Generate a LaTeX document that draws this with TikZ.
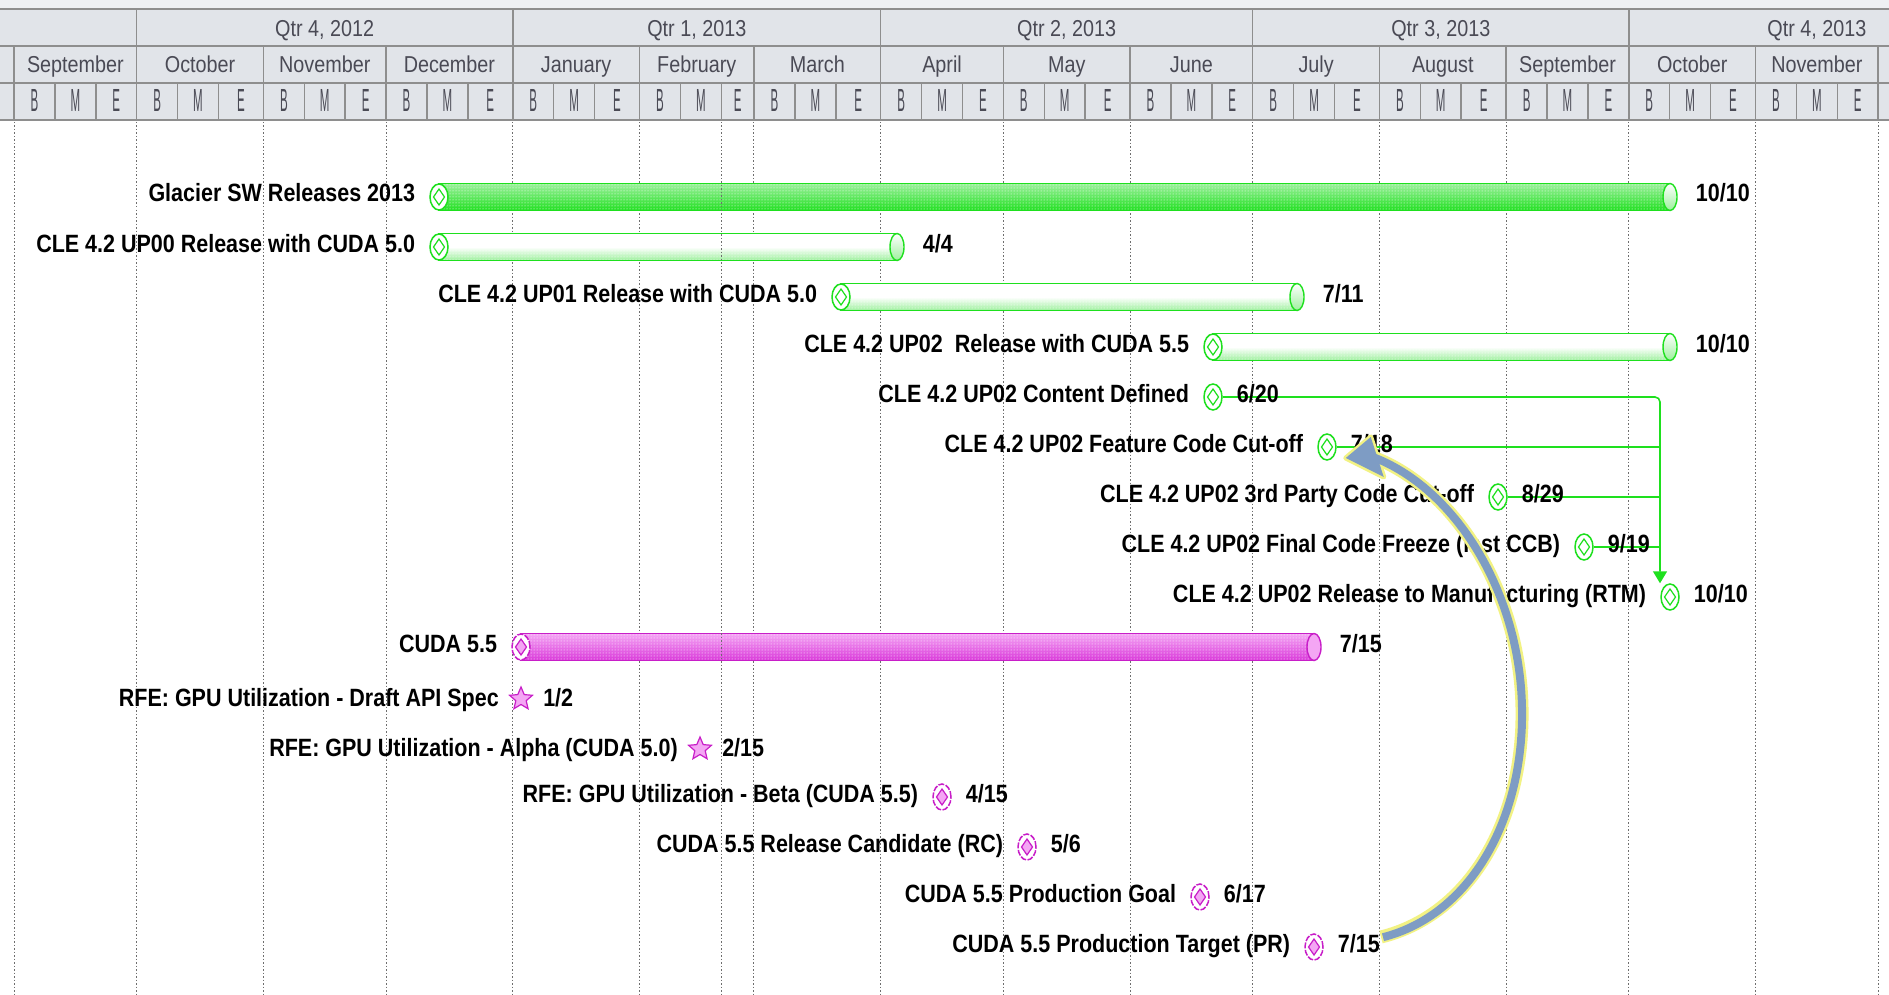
\documentclass[tikz,border=0pt]{standalone}
\usepackage{fontspec}
\setmainfont{Liberation Sans}[FakeStretch=0.86]
\newfontfamily\hdrfont{Liberation Sans}[FakeStretch=0.86]
\newfontfamily\bmefont{Liberation Sans}[FakeStretch=0.36]
\usetikzlibrary{shapes.geometric, arrows.meta, positioning, patterns}

\definecolor{hdrbg}{HTML}{E1E4E9}
\definecolor{hdrtop}{HTML}{EEF0F3}
\definecolor{hdrline}{HTML}{8E8E8E}
\definecolor{hdrtext}{HTML}{4A4A55}
\definecolor{gridgray}{HTML}{6E6E6E}
\definecolor{gline}{HTML}{1EE01E}
\definecolor{gfill}{HTML}{22E022}
\definecolor{gpale}{HTML}{9CF09C}
\definecolor{mline}{HTML}{C81EC8}
\definecolor{mfill}{HTML}{DA3ADA}
\definecolor{mpale}{HTML}{F4A6F4}
\definecolor{arrowfill}{HTML}{7E9CC4}
\definecolor{arrowrim}{HTML}{F2F283}

\begin{document}
\begin{tikzpicture}[
  x=1pt, y=-1pt,
  hdr/.style={font=\hdrfont\fontsize{23}{26}\selectfont, text=hdrtext, inner sep=0pt, anchor=base},
  bme/.style={font=\bmefont\fontsize{32}{34}\selectfont, text=hdrtext, inner sep=0pt, anchor=base},
  hline/.style={draw=hdrline, line width=1.5pt},
  gridline/.style={draw=gridgray, line width=1pt, dash pattern=on 1.5pt off 2pt},
  tlabel/.style={font=\fontsize{25}{30}\selectfont\bfseries, text=black, inner sep=0pt, anchor=base east},
  dlabel/.style={font=\fontsize{25}{30}\selectfont\bfseries, text=black, inner sep=0pt, anchor=base west},
  ms/.style 2 args={ellipse, draw=#1, line width=1.5pt, fill=white, minimum width=18pt, minimum height=26pt, inner sep=0pt,
    path picture={\draw[#1, solid, line width=1.2pt, fill=#2]
      ([yshift=8pt]path picture bounding box.center) -- ([xshift=5.5pt]path picture bounding box.center)
      -- ([yshift=-8pt]path picture bounding box.center) -- ([xshift=-5.5pt]path picture bounding box.center) -- cycle;}},
  gms/.style={ms={gline}{white}},
  mms/.style={ms={mline}{mpale}, dash pattern=on 6pt off 1.5pt},
  rfestar/.style={star, star points=5, star point ratio=2.2, draw=mline, line width=1.2pt, fill=mpale, minimum size=24pt, inner sep=0pt},
  gcap/.style={ellipse, draw=gline, line width=1.4pt, top color=white, bottom color=gpale, minimum width=14pt, minimum height=27pt, inner sep=0pt},
  mcap/.style={ellipse, draw=mline, line width=1.4pt, fill=mpale, minimum width=14pt, minimum height=27pt, inner sep=0pt},
  sumbar/.style={top color=gpale, bottom color=gfill, postaction={pattern=dots, pattern color=white}, postaction={draw=gline, line width=1.5pt}},
  taskbar/.style={top color=white, bottom color=gpale, middle color=white, postaction={pattern=dots, pattern color=white}, postaction={draw=gline, line width=1.5pt}},
  cudabar/.style={top color=mpale, bottom color=mfill, postaction={pattern=dots, pattern color=white}, postaction={draw=mline, line width=1.5pt}},
  dep/.style={draw=gline, line width=1.6pt}
]
\useasboundingbox (0,0) rectangle (1889,995);
\clip (0,0) rectangle (1889,995);
\fill[white] (0,0) rectangle (1889,995);

% Timescale header
\fill[hdrtop] (0,0) rectangle (1889,9);
\fill[hdrbg] (0,9) rectangle (1889,120);
\foreach \qa/\qc/\qn [count=\qi] in {136.7/324.7/{Qtr 4, 2012}, 512.8/696.8/{Qtr 1, 2013}, 880.7/1066.7/{Qtr 2, 2013}, 1252.7/1440.8/{Qtr 3, 2013}, 1628.8/1816.9/{Qtr 4, 2013}}{
  \draw[hline] (\qa,9) -- (\qa,46);
  \node[hdr] (qtr\qi) at (\qc,37) {\qn};
}
\foreach \md/\mn/\ml [count=\mi] in {-30/September/30, 0/October/31, 31/November/30, 61/December/31, 92/January/31, 123/February/28, 151/March/31, 182/April/30, 212/May/31, 243/June/30, 273/July/31, 304/August/31, 335/September/30, 365/October/31, 396/November/30}{
  \pgfmathsetmacro\xa{136.7+4.088*\md}
  \pgfmathsetmacro\xb{136.7+4.088*(\md+10)}
  \pgfmathsetmacro\xc{136.7+4.088*(\md+20)}
  \pgfmathsetmacro\xe{136.7+4.088*(\md+\ml)}
  \draw[hline] (\xa,46) -- (\xa,120);
  \draw[hline] (\xb,83) -- (\xb,120) (\xc,83) -- (\xc,120);
  \node[hdr] (mon\mi) at ({(\xa+\xe)/2},73) {\mn};
  \node[bme] (bB\mi) at ({(\xa+\xb)/2},112) {B};
  \node[bme] (bM\mi) at ({(\xb+\xc)/2},112) {M};
  \node[bme] (bE\mi) at ({(\xc+\xe)/2},112) {E};
  \draw[gridline] (\xa,122) -- (\xa,995);
}
% last month edge (December 2013)
\draw[hline] (1878.2,46) -- (1878.2,120);
\draw[gridline] (1878.2,122) -- (1878.2,995);
\draw[hdrline, line width=2.4pt] (0,9) -- (1889,9);
\draw[hline] (0,46) -- (1889,46) (0,83) -- (1889,83);
\draw[hdrline, line width=2.5pt] (0,120) -- (1889,120);

% Bars
\coordinate (glacierA) at (439,197);
\coordinate (glacierB) at (1670,197);
\path[sumbar] ([yshift=13.5pt]glacierA) rectangle ([yshift=-13.5pt]glacierB);
\coordinate (up00A) at (439,247);
\coordinate (up00B) at (897,247);
\path[taskbar] ([yshift=13.5pt]up00A) rectangle ([yshift=-13.5pt]up00B);
\coordinate (up01A) at (841,297);
\coordinate (up01B) at (1297,297);
\path[taskbar] ([yshift=13.5pt]up01A) rectangle ([yshift=-13.5pt]up01B);
\coordinate (up02A) at (1213,347);
\coordinate (up02B) at (1670,347);
\path[taskbar] ([yshift=13.5pt]up02A) rectangle ([yshift=-13.5pt]up02B);
\coordinate (cudaA) at (521,647);
\coordinate (cudaB) at (1314,647);
\path[cudabar] ([yshift=13.5pt]cudaA) rectangle ([yshift=-13.5pt]cudaB);

% Status date line
\draw[gridline] (721.3,122) -- (721.3,995);

% Bar ends and milestones
\node[gcap] (glacierE) at (glacierB) {};
\node[gms] (glacierS) at (glacierA) {};
\node[gcap] (up00E) at (up00B) {};
\node[gms] (up00S) at (up00A) {};
\node[gcap] (up01E) at (up01B) {};
\node[gms] (up01S) at (up01A) {};
\node[gcap] (up02E) at (up02B) {};
\node[gms] (up02S) at (up02A) {};
\node[gms] (content) at (1213,397) {};
\node[gms] (feature) at (1327,447) {};
\node[gms] (thirdparty) at (1498,497) {};
\node[gms] (freeze) at (1584,547) {};
\node[gms] (rtm) at (1670,597) {};
\node[mcap] (cudaE) at (cudaB) {};
\node[mms] (cudaS) at (cudaA) {};
\node[rfestar] (draft) at (521,699) {};
\node[rfestar] (alpha) at (700,749) {};
\node[mms] (beta) at (942,797) {};
\node[mms] (rc) at (1027,847) {};
\node[mms] (goal) at (1200,897) {};
\node[mms] (target) at (1314,947) {};

% Links into RTM
\coordinate (spine) at ([xshift=-10pt]rtm.north);
\draw[dep, rounded corners=5pt, -{Triangle[width=14pt, length=12pt]}] (content.east) -| (spine);
\draw[dep] (feature.east) -- (feature.east -| spine);
\draw[dep] (thirdparty.east) -- (thirdparty.east -| spine);
\draw[dep] (freeze.east) -- (freeze.east -| spine);

% Task names
\node[tlabel] (glacierL) at ([xshift=-14pt, yshift=-5pt]glacierS.west) {Glacier SW Releases 2013};
\node[tlabel] (up00L) at ([xshift=-14pt, yshift=-5pt]up00S.west) {CLE 4.2 UP00 Release with CUDA 5.0};
\node[tlabel] (up01L) at ([xshift=-14pt, yshift=-5pt]up01S.west) {CLE 4.2 UP01 Release with CUDA 5.0};
\node[tlabel] (up02L) at ([xshift=-14pt, yshift=-5pt]up02S.west) {CLE 4.2 UP02\ \ Release with CUDA 5.5};
\node[tlabel] (contentL) at ([xshift=-14pt, yshift=-5pt]content.west) {CLE 4.2 UP02 Content Defined};
\node[tlabel] (featureL) at ([xshift=-14pt, yshift=-5pt]feature.west) {CLE 4.2 UP02 Feature Code Cut-off};
\node[tlabel] (thirdpartyL) at ([xshift=-14pt, yshift=-5pt]thirdparty.west) {CLE 4.2 UP02 3rd Party Code Cut-off};
\node[tlabel] (freezeL) at ([xshift=-14pt, yshift=-5pt]freeze.west) {CLE 4.2 UP02 Final Code Freeze (last CCB)};
\node[tlabel] (rtmL) at ([xshift=-14pt, yshift=-5pt]rtm.west) {CLE 4.2 UP02 Release to Manufacturing (RTM)};
\node[tlabel] (cudaL) at ([xshift=-14pt, yshift=-5pt]cudaS.west) {CUDA 5.5};
\node[tlabel] (draftL) at ([xshift=-14pt, yshift=-7pt]draft.west) {RFE: GPU Utilization - Draft API Spec};
\node[tlabel] (alphaL) at ([xshift=-14pt, yshift=-7pt]alpha.west) {RFE: GPU Utilization - Alpha (CUDA 5.0)};
\node[tlabel] (betaL) at ([xshift=-14pt, yshift=-5pt]beta.west) {RFE: GPU Utilization - Beta (CUDA 5.5)};
\node[tlabel] (rcL) at ([xshift=-14pt, yshift=-5pt]rc.west) {CUDA 5.5 Release Candidate (RC)};
\node[tlabel] (goalL) at ([xshift=-14pt, yshift=-5pt]goal.west) {CUDA 5.5 Production Goal};
\node[tlabel] (targetL) at ([xshift=-14pt, yshift=-5pt]target.west) {CUDA 5.5 Production Target (PR)};

% Dates
\node[dlabel] (glacierD) at ([xshift=18pt, yshift=-5pt]glacierE.east) {10/10};
\node[dlabel] (up00D) at ([xshift=18pt, yshift=-5pt]up00E.east) {4/4};
\node[dlabel] (up01D) at ([xshift=18pt, yshift=-5pt]up01E.east) {7/11};
\node[dlabel] (up02D) at ([xshift=18pt, yshift=-5pt]up02E.east) {10/10};
\node[dlabel] (contentD) at ([xshift=14pt, yshift=-5pt]content.east) {6/20};
\node[dlabel] (featureD) at ([xshift=14pt, yshift=-5pt]feature.east) {7/18};
\node[dlabel] (thirdpartyD) at ([xshift=14pt, yshift=-5pt]thirdparty.east) {8/29};
\node[dlabel] (freezeD) at ([xshift=14pt, yshift=-5pt]freeze.east) {9/19};
\node[dlabel] (rtmD) at ([xshift=14pt, yshift=-5pt]rtm.east) {10/10};
\node[dlabel] (cudaD) at ([xshift=18pt, yshift=-5pt]cudaE.east) {7/15};
\node[dlabel] (draftD) at ([xshift=14pt, yshift=-7pt]draft.east) {1/2};
\node[dlabel] (alphaD) at ([xshift=14pt, yshift=-7pt]alpha.east) {2/15};
\node[dlabel] (betaD) at ([xshift=14pt, yshift=-5pt]beta.east) {4/15};
\node[dlabel] (rcD) at ([xshift=14pt, yshift=-5pt]rc.east) {5/6};
\node[dlabel] (goalD) at ([xshift=14pt, yshift=-5pt]goal.east) {6/17};
\node[dlabel] (targetD) at ([xshift=14pt, yshift=-5pt]target.east) {7/15};

% Curved call-out arrow, Production Target back to Feature Code Cut-off
\coordinate (arrTail) at ([xshift=3pt, yshift=6pt]targetD.east);
\coordinate (arrRim) at ([xshift=1pt, yshift=6.2pt]targetD.east);
\coordinate (arrTip) at ([xshift=9pt, yshift=-11pt]feature.east);
\coordinate (arrTop) at (1522,708);
\coordinate (arrEnd) at ([shift={(27,-1)}]arrTip);
\coordinate (arrWingA) at ([shift={(25,-21)}]arrTip);
\coordinate (arrWingB) at ([shift={(38,19)}]arrTip);
\draw[arrowrim, line width=13pt] (arrRim) .. controls (1470,915) and (1524,820) .. (arrTop) .. controls (1520,592) and (1455,488) .. (arrEnd);
\filldraw[arrowrim, line width=5pt, line join=round] (arrTip) -- (arrWingA) -- (arrWingB) -- cycle;
\draw[arrowfill, line width=8pt] (arrTail) .. controls (1470,915) and (1524,820) .. (arrTop) .. controls (1520,592) and (1455,488) .. (arrEnd);
\fill[arrowfill] (arrTip) -- (arrWingA) -- (arrWingB) -- cycle;

\end{tikzpicture}
\end{document}
